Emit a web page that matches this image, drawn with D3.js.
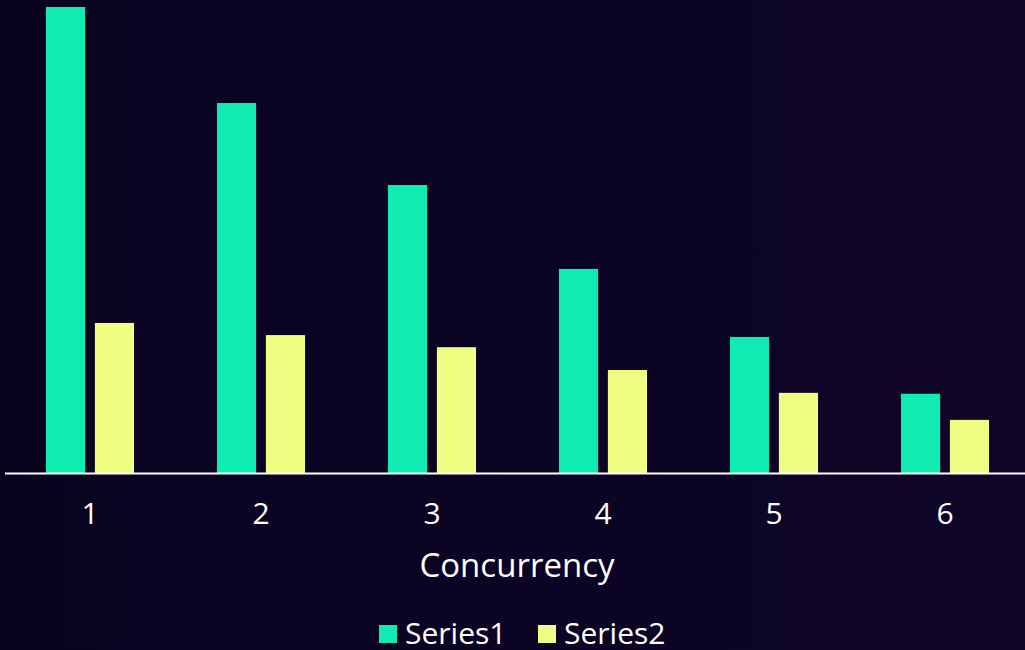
<!DOCTYPE html>
<html>
<head>
<meta charset="utf-8">
<script src="https://cdn.jsdelivr.net/npm/d3@7"></script>
<style>
  html, body { margin: 0; padding: 0; background: #0a0322; }
  svg { display: block; }
</style>
</head>
<body>
<svg id="chart" width="1025" height="650"></svg>
<script>
// Relative throughput per concurrency level
const categories = ["1", "2", "3", "4", "5", "6"];
const seriesNames = ["Series1", "Series2"];
const series1 = [100, 79.4, 61.8, 43.8, 29.2, 17.0];
const series2 = [32.2, 29.6, 27.0, 22.1, 17.2, 11.4];
const seriesValues = [series1, series2];
const colors = ["#10ecb1", "#eefe82"];

const width = 1025, height = 650;
const baseY = 473;
const svg = d3.select("#chart");

// Background with a faint horizontal tint
const defs = svg.append("defs");
const grad = defs.append("linearGradient").attr("id", "bg")
  .attr("x1", "0").attr("y1", "0").attr("x2", "1").attr("y2", "0");
grad.append("stop").attr("offset", "0").attr("stop-color", "#090320");
grad.append("stop").attr("offset", "1").attr("stop-color", "#0e0528");
svg.append("rect").attr("width", width).attr("height", height).attr("fill", "url(#bg)");

const x0 = d3.scaleBand().domain(categories).range([4.5, 1030.5])
  .paddingInner(0.485).paddingOuter(0.2425);
const x1 = d3.scaleBand().domain(seriesNames).range([0, x0.bandwidth()]).paddingInner(0.2);
const y = d3.scaleLinear().domain([0, 100]).range([baseY, 7]);

const rows = categories.map((c, i) => ({
  cat: c,
  vals: seriesNames.map((s, j) => ({ s, v: seriesValues[j][i], color: colors[j] }))
}));

const groups = svg.append("g").selectAll("g").data(rows).join("g")
  .attr("transform", d => `translate(${x0(d.cat)},0)`);
groups.selectAll("rect").data(d => d.vals).join("rect")
  .attr("x", d => x1(d.s))
  .attr("width", x1.bandwidth())
  .attr("y", d => y(d.v))
  .attr("height", d => baseY - y(d.v))
  .attr("fill", d => d.color);

// Category axis
const axis = svg.append("g").attr("transform", `translate(0,${baseY})`)
  .call(d3.axisBottom(x0).tickSize(0).tickPadding(30));
axis.select(".domain").attr("stroke", "#ffffff").attr("stroke-width", 2);
axis.selectAll("text")
  .attr("fill", "#ffffff")
  .style("font-family", "'Open Sans', sans-serif")
  .style("font-size", "30px");

svg.append("text")
  .attr("x", 517).attr("y", 577)
  .attr("text-anchor", "middle")
  .attr("fill", "#ffffff")
  .style("font-family", "'Open Sans', sans-serif")
  .style("font-size", "33px")
  .text("Concurrency");

// Legend
const legendX = [379, 538];
const legend = svg.append("g").selectAll("g").data(seriesNames).join("g")
  .attr("transform", (d, i) => `translate(${legendX[i]},625)`);
legend.append("rect").attr("width", 18).attr("height", 18)
  .attr("fill", (d, i) => colors[i]);
legend.append("text").attr("x", 26).attr("y", 19)
  .attr("fill", "#ffffff")
  .style("font-family", "'Open Sans', sans-serif")
  .style("font-size", "30px")
  .text(d => d);
</script>
</body>
</html>
